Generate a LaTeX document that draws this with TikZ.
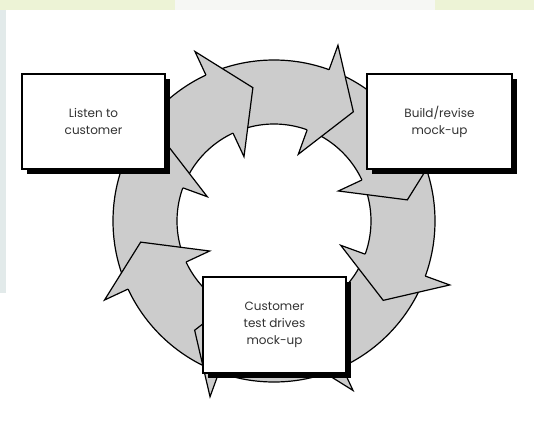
\documentclass[tikz,border=0pt]{standalone}
\usepackage{fontspec}
\newfontfamily\boxfont{Poppins}
\usetikzlibrary{shadows}
\definecolor{ringgray}{RGB}{204,204,204}
\definecolor{textgray}{RGB}{50,50,50}
\definecolor{topgreen}{RGB}{237,243,214}
\definecolor{topwhite}{RGB}{246,247,244}
\definecolor{sideblue}{RGB}{226,234,234}

\begin{document}
\begin{tikzpicture}[x=1pt, y=1pt,
    stepbox/.style={draw, line width=1.4pt, fill=white,
        minimum width=143pt, minimum height=95pt, align=center,
        text=textgray, font=\boxfont\fontsize{12}{17}\selectfont,
        drop shadow={shadow xshift=5pt, shadow yshift=-5pt, fill=black, opacity=1}},
    ringline/.style={line width=1.2pt},
    headfill/.style={fill=ringgray}]

    \useasboundingbox (-274,-205) rectangle (260,221);

    % page edges
    \fill[topgreen] (-274,211) rectangle (260,221);
    \fill[topwhite] (-99,211) rectangle (161,221);
    \fill[sideblue] (-274,-72) rectangle (-268,211);

    % ring
    \fill[ringgray, even odd rule] (0,0) circle (161) (0,0) circle (97);
    \draw[ringline] (0,0) circle (161);
    \draw[ringline] (0,0) circle (97);

    % heads
    \fill[headfill] (160:71) -- (144:135) -- (160:187) -- cycle;
    \draw[ringline] (160:161) -- (160:187) -- (144:135) -- (160:71) -- (160:97);
    \fill[headfill] (115:71) -- (99:135) -- (115:187) -- cycle;
    \draw[ringline] (115:161) -- (115:187) -- (99:135) -- (115:71) -- (115:97);
    \fill[headfill] (70:71) -- (54:135) -- (70:187) -- cycle;
    \draw[ringline] (70:161) -- (70:187) -- (54:135) -- (70:71) -- (70:97);
    \fill[headfill] (25:71) -- (9:135) -- (25:187) -- cycle;
    \draw[ringline] (25:161) -- (25:187) -- (9:135) -- (25:71) -- (25:97);
    \fill[headfill] (-20:71) -- (-36:135) -- (-20:187) -- cycle;
    \draw[ringline] (-20:161) -- (-20:187) -- (-36:135) -- (-20:71) -- (-20:97);
    \fill[headfill] (-65:71) -- (-81:135) -- (-65:187) -- cycle;
    \draw[ringline] (-65:161) -- (-65:187) -- (-81:135) -- (-65:71) -- (-65:97);
    \fill[headfill] (-110:71) -- (-126:135) -- (-110:187) -- cycle;
    \draw[ringline] (-110:161) -- (-110:187) -- (-126:135) -- (-110:71) -- (-110:97);
    \fill[headfill] (-155:71) -- (-171:135) -- (-155:187) -- cycle;
    \draw[ringline] (-155:161) -- (-155:187) -- (-171:135) -- (-155:71) -- (-155:97);

    % boxes
    \node[stepbox] (listen) at (-180.5,99.5) {Listen to\\customer};
    \node[stepbox, minimum width=145pt] (build) at (165.5,99.5) {Build/revise\\mock-up};
    \node[stepbox, minimum height=96pt] (testdrive) at (0.5,-104) {Customer\\test drives\\mock-up};
\end{tikzpicture}
\end{document}
